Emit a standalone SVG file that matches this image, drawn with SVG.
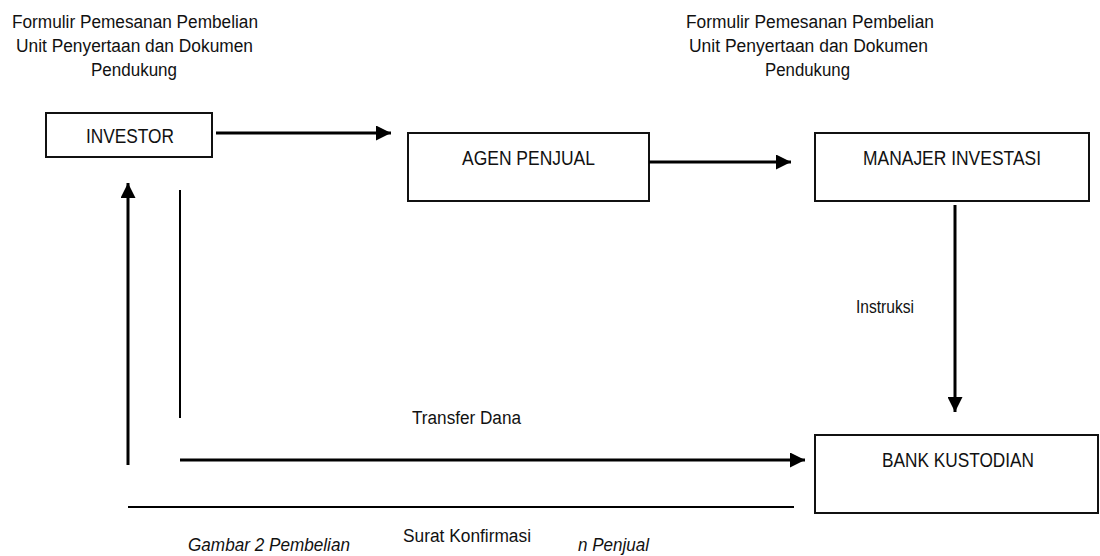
<svg xmlns="http://www.w3.org/2000/svg" width="1100" height="556" viewBox="0 0 1100 556">
<style>
  text { font-family: "Liberation Sans", Arial, sans-serif; font-size: 18px; fill: #111; }
  .big { font-size: 21px; }
  .it { font-style: italic; }
  .box { fill: #fff; stroke: #111; stroke-width: 2; }
  .arr { stroke: #000; stroke-width: 3; fill: none; }
  .ln { stroke: #000; stroke-width: 2; fill: none; }
</style>
<defs>
  <marker id="ah" viewBox="0 0 15 15" refX="15" refY="7.5" markerWidth="15" markerHeight="15" markerUnits="userSpaceOnUse" orient="auto">
    <path d="M0,0 L15,7.5 L0,15 z" fill="#000"/>
  </marker>
</defs>
<rect width="1100" height="556" fill="#fff"/>

<g id="label-form-left">
  <text x="12" y="28" textLength="246" lengthAdjust="spacingAndGlyphs">Formulir Pemesanan Pembelian</text>
  <text x="16" y="52" textLength="237" lengthAdjust="spacingAndGlyphs">Unit Penyertaan dan Dokumen</text>
  <text x="91" y="76" textLength="86" lengthAdjust="spacingAndGlyphs">Pendukung</text>
</g>
<g id="label-form-right">
  <text x="686" y="28" textLength="248" lengthAdjust="spacingAndGlyphs">Formulir Pemesanan Pembelian</text>
  <text x="689" y="52" textLength="239" lengthAdjust="spacingAndGlyphs">Unit Penyertaan dan Dokumen</text>
  <text x="765" y="76" textLength="85" lengthAdjust="spacingAndGlyphs">Pendukung</text>
</g>

<g id="investor">
  <rect class="box" x="46" y="113" width="166" height="44"/>
  <text x="86" y="143" style="font-size:20px" textLength="88" lengthAdjust="spacingAndGlyphs">INVESTOR</text>
</g>
<g id="agen-penjual">
  <rect class="box" x="408" y="133" width="241" height="68"/>
  <text class="big" x="462" y="165" textLength="133" lengthAdjust="spacingAndGlyphs">AGEN PENJUAL</text>
</g>
<g id="manajer-investasi">
  <rect class="box" x="815" y="133" width="274" height="68"/>
  <text class="big" x="863" y="165" textLength="178" lengthAdjust="spacingAndGlyphs">MANAJER INVESTASI</text>
</g>
<g id="bank-kustodian">
  <rect class="box" x="815" y="435" width="283" height="78"/>
  <text class="big" x="882" y="467" textLength="152" lengthAdjust="spacingAndGlyphs">BANK KUSTODIAN</text>
</g>

<g id="connectors">
  <line class="arr" x1="216" y1="133" x2="391" y2="133" marker-end="url(#ah)"/>
  <line class="arr" x1="649" y1="162" x2="791" y2="162" marker-end="url(#ah)"/>
  <line class="arr" x1="955" y1="205" x2="955" y2="412" marker-end="url(#ah)"/>
  <line class="arr" x1="180" y1="460" x2="805" y2="460" marker-end="url(#ah)"/>
  <line class="arr" x1="128" y1="465" x2="128" y2="183" marker-end="url(#ah)"/>
  <line class="ln" x1="180" y1="190" x2="180" y2="418"/>
  <line class="ln" x1="128" y1="507" x2="794" y2="507"/>
</g>

<g id="labels">
  <text x="856" y="313" textLength="58" lengthAdjust="spacingAndGlyphs">Instruksi</text>
  <text x="412" y="424" textLength="109" lengthAdjust="spacingAndGlyphs">Transfer Dana</text>
  <text x="403" y="542" textLength="128" lengthAdjust="spacingAndGlyphs">Surat Konfirmasi</text>
  <text class="it" x="188" y="551" textLength="162" lengthAdjust="spacingAndGlyphs">Gambar 2 Pembelian</text>
  <text class="it" x="578" y="551" textLength="71" lengthAdjust="spacingAndGlyphs">n Penjual</text>
</g>
</svg>
